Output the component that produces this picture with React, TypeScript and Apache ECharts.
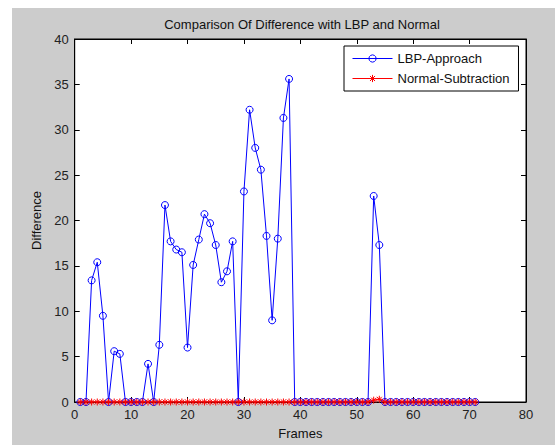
import React, { useEffect, useRef } from "react";
import * as echarts from "echarts";

const frames: number[] = Array.from({ length: 71 }, (_, i) => i + 1);
const lbpValues: number[] = [
  0, 0, 13.4, 15.4, 9.5, 0, 5.6, 5.3, 0, 0,
  0, 0, 4.2, 0, 6.3, 21.7, 17.7, 16.8, 16.5, 6.0,
  15.1, 17.9, 20.7, 19.7, 17.3, 13.2, 14.4, 17.7, 0, 23.2,
  32.2, 28.0, 25.6, 18.3, 9.0, 18.0, 31.3, 35.6, 0, 0,
  0, 0, 0, 0, 0, 0, 0, 0, 0, 0,
  0, 0, 22.7, 17.3, 0, 0, 0, 0, 0, 0,
  0, 0, 0, 0, 0, 0, 0, 0, 0, 0,
  0,
];
const normalValues: number[] = frames.map((f) => (f === 53 ? 0.2 : f === 54 ? 0.3 : 0));
const titleText = "Comparison Of Difference with LBP and Normal";
const xName = "Frames";
const yName = "Difference";
const seriesNames = ["LBP-Approach", "Normal-Subtraction"];

const ASTERISK =
  "path://M0,-10L0,10M-10,0L10,0M-7,-7L7,7M-7,7L7,-7";

export default function App() {
  const ref = useRef<HTMLDivElement>(null);
  useEffect(() => {
    if (!ref.current) return;
    const chart = echarts.init(ref.current, null, { renderer: "svg" });
    const font = "Liberation Sans, Arial, sans-serif";
    const axisCommon = {
      axisLine: { show: true, onZero: false, lineStyle: { color: "#000", width: 1 } },
      axisTick: { show: true, inside: true, length: 5, lineStyle: { color: "#000" } },
      splitLine: { show: false },
    };
    chart.setOption({
      animation: false,
      backgroundColor: "#cccccc",
      textStyle: { fontFamily: font },
      title: {
        text: titleText,
        left: 285,
        top: 5,
        textAlign: "center",
        textStyle: { fontSize: 13, fontWeight: "normal", color: "#111", fontFamily: font },
      },
      legend: {
        orient: "vertical",
        left: 332,
        top: 38,
        backgroundColor: "#fff",
        borderColor: "#000",
        borderWidth: 1,
        borderRadius: 0,
        padding: [6, 9, 6, 8],
        itemWidth: 40,
        itemHeight: 9,
        itemGap: 7,
        lineStyle: { width: 1 },
        itemStyle: { borderWidth: 1 },
        textStyle: { fontSize: 13, color: "#111", fontFamily: font },
        data: seriesNames,
      },
      grid: {
        left: 62.7,
        top: 31,
        right: 29,
        bottom: 37.3,
        show: true,
        backgroundColor: "#fff",
        borderColor: "#000",
        borderWidth: 1,
        containLabel: false,
      },
      xAxis: [
        {
          type: "value",
          min: 0,
          max: 80,
          interval: 10,
          name: xName,
          nameLocation: "middle",
          nameGap: 25,
          nameTextStyle: { fontSize: 13, color: "#111", fontFamily: font, verticalAlign: "top" },
          axisLabel: { fontSize: 13, color: "#222", margin: 6, fontFamily: font },
          ...axisCommon,
        },
        {
          type: "value",
          position: "top",
          min: 0,
          max: 80,
          interval: 10,
          axisLabel: { show: false },
          ...axisCommon,
        },
      ],
      yAxis: [
        {
          type: "value",
          min: 0,
          max: 40,
          interval: 5,
          name: yName,
          nameLocation: "middle",
          nameGap: 29,
          nameTextStyle: { fontSize: 13, color: "#111", fontFamily: font },
          axisLabel: { fontSize: 13, color: "#222", margin: 6, fontFamily: font },
          ...axisCommon,
        },
        {
          type: "value",
          position: "right",
          min: 0,
          max: 40,
          interval: 5,
          axisLabel: { show: false },
          ...axisCommon,
        },
      ],
      series: [
        {
          name: seriesNames[0],
          type: "line",
          data: frames.map((f, i) => [f, lbpValues[i]]),
          symbol: "circle",
          symbolSize: 7,
          showAllSymbol: true,
          lineStyle: { color: "#0000ff", width: 1 },
          itemStyle: { color: "rgba(255,255,255,0)", borderColor: "#0000ff", borderWidth: 1 },
        },
        {
          name: seriesNames[1],
          type: "line",
          data: frames.map((f, i) => [f, normalValues[i]]),
          symbol: ASTERISK,
          symbolSize: 7,
          showAllSymbol: true,
          lineStyle: { color: "#ff0000", width: 1 },
          itemStyle: { color: "#ff0000", borderColor: "#ff0000", borderWidth: 1 },
        },
      ],
    });
    return () => chart.dispose();
  }, []);
  return (
    <div
      ref={ref}
      style={{ position: "fixed", left: 12, top: 8, width: 543, height: 437 }}
    />
  );
}
